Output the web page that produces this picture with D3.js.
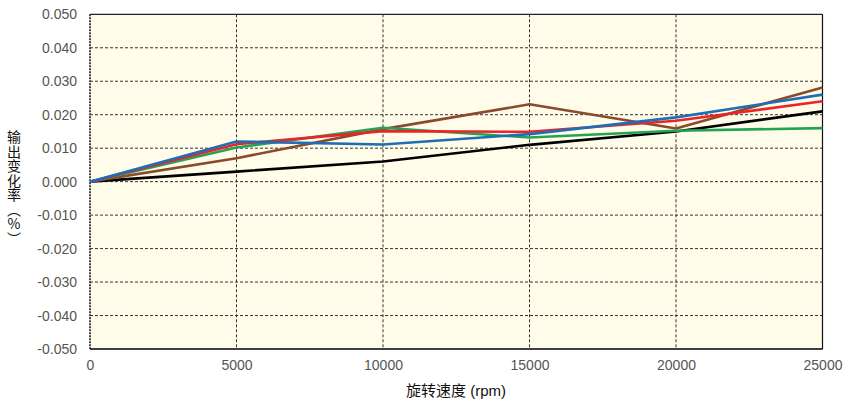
<!DOCTYPE html>
<html><head><meta charset="utf-8">
<script src="https://cdn.jsdelivr.net/npm/d3@7"></script>
<style>body{margin:0;background:#fff}</style>
</head><body><svg id="c" width="848" height="403"></svg>
<script>
const speeds = [0, 5000, 10000, 15000, 20000, 25000];
const seriesBlack = [0, 0.003, 0.006, 0.011, 0.015, 0.021];
const seriesBrown = [0, 0.007, 0.0157, 0.0231, 0.0159, 0.0281];
const seriesGreen = [0, 0.0102, 0.0161, 0.0132, 0.0152, 0.016];
const seriesRed = [0, 0.0112, 0.0151, 0.0149, 0.0182, 0.024];
const seriesBlue = [0, 0.012, 0.0111, 0.0142, 0.0192, 0.026];
const xTicks = [0, 5000, 10000, 15000, 20000, 25000];
const yTicks = [-0.05, -0.04, -0.03, -0.02, -0.01, 0, 0.01, 0.02, 0.03, 0.04, 0.05];
const yLabel = "输出变化率︵%︶";
const series = [
  {name: "black", color: "#000000", values: seriesBlack},
  {name: "brown", color: "#8B4A2B", values: seriesBrown},
  {name: "green", color: "#23A354", values: seriesGreen},
  {name: "red", color: "#E8262A", values: seriesRed},
  {name: "blue", color: "#1F6DB5", values: seriesBlue}
];
const L = 90, R = 822.5, T = 14.3, B = 349;
const svg = d3.select("#c");
const x = d3.scaleLinear().domain([0, 25000]).range([L, R]);
const y = d3.scaleLinear().domain([-0.05, 0.05]).range([B, T]);
svg.append("rect").attr("x", L).attr("y", T).attr("width", R - L).attr("height", B - T).attr("fill", "#FFFCEA");
const g = svg.append("g");
g.selectAll(".hg").data(yTicks.slice(1, -1)).join("line")
  .attr("x1", L).attr("x2", R).attr("y1", d => y(d)).attr("y2", d => y(d))
  .attr("stroke", "#333").attr("stroke-width", 1).attr("stroke-dasharray", "3,2");
g.selectAll(".vg").data(xTicks.slice(1, -1)).join("line")
  .attr("y1", T).attr("y2", B).attr("x1", d => x(d)).attr("x2", d => x(d))
  .attr("stroke", "#333").attr("stroke-width", 1).attr("stroke-dasharray", "3,2");
// frame
svg.append("line").attr("x1", L).attr("x2", R).attr("y1", T).attr("y2", T).attr("stroke", "#222").attr("stroke-width", 1.2);
svg.append("line").attr("x1", R).attr("x2", R).attr("y1", T).attr("y2", B).attr("stroke", "#111").attr("stroke-width", 1.2);
svg.append("line").attr("x1", L).attr("x2", L).attr("y1", T).attr("y2", B).attr("stroke", "#444").attr("stroke-width", 2).attr("stroke-dasharray", "2,1");
svg.append("line").attr("x1", L).attr("x2", R).attr("y1", B).attr("y2", B).attr("stroke", "#000").attr("stroke-width", 1.5);
// axes
const fmt = d => d3.format(".3f")(d).replace("−", "-");
const yAxis = d3.axisLeft(y).tickValues(yTicks).tickFormat(fmt).tickSize(0).tickPadding(13);
const ya = svg.append("g").attr("transform", `translate(${L},0)`).call(yAxis);
ya.select(".domain").remove();
ya.selectAll("text").attr("font-family", "Liberation Sans, Arial, sans-serif").attr("font-size", 14).attr("fill", "#555");
const xAxis = d3.axisBottom(x).tickValues(xTicks).tickFormat(d3.format("d")).tickSize(0).tickPadding(11);
const xa = svg.append("g").attr("transform", `translate(0,${B})`).call(xAxis);
xa.select(".domain").remove();
xa.selectAll("text").attr("font-family", "Liberation Sans, Arial, sans-serif").attr("font-size", 14).attr("fill", "#555");
// lines
const line = d3.line().x((d, i) => x(speeds[i])).y(d => y(d));
svg.append("g").selectAll("path").data(series).join("path")
  .attr("d", s => line(s.values)).attr("fill", "none")
  .attr("stroke", s => s.color).attr("stroke-width", 2.6).attr("stroke-linejoin", "round");
// labels
svg.append("text").attr("x", 456).attr("y", 396).attr("text-anchor", "middle")
  .attr("font-family", "Liberation Sans, Noto Sans CJK SC, sans-serif").attr("font-size", 15).attr("fill", "#111")
  .text("旋转速度 (rpm)");
svg.append("text").attr("x", 14).attr("y", 130)
  .attr("writing-mode", "vertical-rl")
  .style("writing-mode", "vertical-rl").style("text-orientation", "upright")
  .attr("font-family", "Noto Sans CJK SC, sans-serif").attr("font-size", 14).attr("fill", "#111")
  .attr("letter-spacing", 0.5)
  .text(yLabel);
</script></body></html>
